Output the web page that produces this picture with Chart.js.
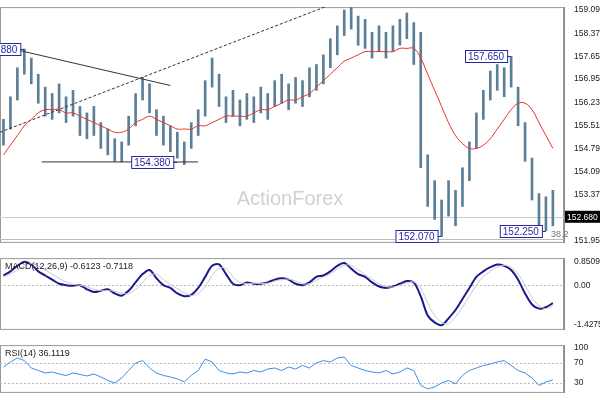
<!DOCTYPE html><html><head><meta charset="utf-8">
<script src="https://cdn.jsdelivr.net/npm/chart.js@4"></script>
<style>body{margin:0;background:#fff;width:600px;height:400px;overflow:hidden;position:relative}
canvas{position:absolute;left:0}</style></head><body>
<canvas id="c1" style="top:0;width:600px;height:250px"></canvas>
<canvas id="c2" style="top:251px;width:600px;height:86px"></canvas>
<canvas id="c3" style="top:338px;width:600px;height:62px"></canvas>
<script>
const lows=[154.9,155.4,156.3,157.1,156.8,156.2,155.8,155.7,155.9,155.6,155.8,155.2,155.1,155.2,154.8,154.6,154.4,154.38,154.9,155.5,156.3,155.9,155.2,154.9,154.7,154.5,154.3,154.8,155.2,155.8,156.7,156.1,155.6,155.8,155.5,155.7,155.6,155.9,155.7,156.1,156.2,156.0,156.2,156.1,156.4,156.6,156.8,157.3,157.7,158.3,158.5,158.0,157.9,157.6,157.8,157.6,157.8,158.0,158.2,157.4,154.2,153.0,152.6,152.07,152.7,152.4,153.0,153.8,154.8,155.7,156.3,156.6,156.4,156.7,155.5,154.4,153.2,152.4,152.25,152.4];
const highs=[155.7,156.4,157.3,157.88,157.6,157.1,156.7,156.5,156.8,156.4,156.6,156.1,155.9,156.1,155.6,155.4,155.1,155.0,155.8,156.5,157.0,156.8,156.0,155.8,155.5,155.3,155.0,155.6,156.0,156.9,157.6,157.1,156.4,156.6,156.3,156.5,156.4,156.7,156.5,156.9,157.1,156.8,157.0,156.9,157.3,157.4,157.7,158.2,158.6,159.09,159.2,158.9,158.8,158.4,158.6,158.4,158.6,158.8,159.0,158.7,158.4,154.6,153.8,153.2,153.8,153.5,154.2,155.0,155.9,156.6,157.2,157.4,157.3,157.65,156.7,155.6,154.5,153.4,153.3,153.5];
const ma=[154.6,154.9,155.2,155.5,155.7,155.9,156.0,156.0,156.0,155.9,155.9,155.8,155.7,155.6,155.5,155.4,155.3,155.3,155.4,155.6,155.7,155.8,155.7,155.6,155.5,155.4,155.4,155.4,155.5,155.5,155.6,155.7,155.8,155.8,155.8,155.8,155.9,156.0,156.0,156.1,156.2,156.3,156.3,156.4,156.5,156.7,156.9,157.1,157.3,157.5,157.6,157.7,157.8,157.8,157.8,157.8,157.8,157.9,157.9,157.9,157.6,157.1,156.6,156.1,155.6,155.2,154.95,154.8,154.8,154.9,155.1,155.4,155.7,156.0,156.2,156.2,156.0,155.6,155.2,154.8];
const macd=[0.35,0.5,0.7,0.85,0.75,0.5,0.35,0.2,0.05,0.0,-0.02,0.0,-0.15,-0.25,-0.2,-0.15,-0.3,-0.38,-0.2,0.1,0.4,0.55,0.25,0.0,-0.1,-0.3,-0.4,-0.35,-0.1,0.3,0.7,0.75,0.4,0.05,0.0,0.1,0.05,0.05,0.1,0.2,0.25,0.2,0.05,0.0,0.1,0.3,0.35,0.5,0.7,0.8,0.6,0.4,0.3,0.1,-0.05,-0.1,-0.05,0.05,0.15,0.1,-0.4,-1.1,-1.35,-1.45,-1.2,-0.9,-0.5,-0.1,0.3,0.5,0.65,0.75,0.7,0.55,0.2,-0.3,-0.7,-0.85,-0.8,-0.65];
const signal=[0.3,0.4,0.55,0.7,0.78,0.7,0.55,0.4,0.25,0.12,0.03,0.0,-0.06,-0.15,-0.2,-0.2,-0.22,-0.3,-0.3,-0.15,0.1,0.35,0.4,0.2,0.03,-0.12,-0.28,-0.37,-0.3,-0.05,0.35,0.62,0.6,0.3,0.1,0.05,0.07,0.06,0.07,0.14,0.2,0.22,0.15,0.05,0.05,0.18,0.3,0.4,0.58,0.72,0.72,0.55,0.38,0.22,0.05,-0.05,-0.07,0.0,0.08,0.12,-0.1,-0.65,-1.1,-1.35,-1.4,-1.15,-0.8,-0.4,0.0,0.3,0.5,0.65,0.72,0.65,0.4,0.0,-0.45,-0.75,-0.85,-0.75];
const rsi=[62,72,80,75,60,55,50,52,48,45,50,47,44,48,42,35,30,40,55,70,75,60,50,45,42,38,32,45,55,78,72,55,50,48,52,50,55,52,58,60,55,62,58,65,60,70,75,72,80,82,65,60,55,52,50,55,48,52,60,55,25,18,22,30,35,28,45,55,60,65,68,72,75,65,55,50,40,25,32,36];
const priceTicks=[159.09,158.37,157.65,156.95,156.23,155.51,154.79,154.09,153.37,151.95];
const lastPrice=152.68;
const priceLabels=[{i:3,v:157.88,t:'157.880'},{i:25,v:154.38,t:'154.380'},{i:63,v:152.07,t:'152.070'},{i:73,v:157.65,t:'157.650'},{i:78,v:152.25,t:'152.250'}];
const FONT='9px "Liberation Sans"';
const N=lows.length;
const xScale={type:'linear',min:-0.5,max:N+0.6,display:false,offset:false};
const yRight=(min,max,ticks,fmt)=>({position:'right',min,max,grid:{display:false},border:{color:'#888'},
 afterBuildTicks:s=>{s.ticks=ticks.map(v=>({value:v}))},afterFit:s=>{s.width=36},
 ticks:{autoSkip:false,font:{family:'Liberation Sans',size:8.5},color:'#222',padding:2,callback:fmt}});
const frame={id:'frame',beforeDraw(c){const a=c.chartArea,x=c.ctx;x.save();x.strokeStyle='#999';x.lineWidth=1;x.strokeRect(a.left+0.5,a.top+0.5,a.right-a.left-1,a.bottom-a.top-1);x.restore();}};
function hline(c,v,col,dash){const a=c.chartArea,x=c.ctx,y=Math.round(c.scales.y.getPixelForValue(v))+0.5;x.save();x.strokeStyle=col;x.setLineDash(dash||[]);x.beginPath();x.moveTo(a.left,y);x.lineTo(a.right,y);x.stroke();x.restore();}
const mainPlug={id:'mainp',beforeDatasetsDraw(c){hline(c,lastPrice,'#ccc');hline(c,151.98,'#bbb');
 const x=c.ctx;x.save();x.font='20px "Liberation Sans"';x.fillStyle='rgba(150,150,150,0.45)';x.textAlign='center';x.fillText('ActionForex',290,205);x.restore();},
 afterDraw(c){const x=c.ctx,sx=c.scales.x,sy=c.scales.y;x.save();x.font='10px "Liberation Sans"';x.textBaseline='middle';
 priceLabels.forEach(p=>{const px=sx.getPixelForValue(p.i),py=Math.round(sy.getPixelForValue(p.v))+0.5;const w=x.measureText(p.t).width+6;
  const bx=px-w-4;
  x.strokeStyle='#2a2aa0';x.beginPath();x.moveTo(bx+w,py);x.lineTo(px,py);x.stroke();
  x.fillStyle='#fff';x.fillRect(bx,py-6,w,12);x.strokeRect(bx+0.5,py-6,w,12);x.fillStyle='#2a2aa0';x.fillText(p.t,bx+3,py+1);});
 x.font=FONT;x.fillStyle='#777';x.fillText('38.2',c.chartArea.right-13,sy.getPixelForValue(151.98)-5);
 const a=c.chartArea,py=sy.getPixelForValue(lastPrice);x.fillStyle='#000';x.fillRect(a.right+1,py-6,35,12);x.fillStyle='#fff';x.font='8.5px "Liberation Sans"';x.fillText(lastPrice.toFixed(3),a.right+3,py+1);x.restore();}};
const base={responsive:false,animation:false,plugins:{legend:{display:false},tooltip:{enabled:false}}};
function mk(id,h){const c=document.getElementById(id);c.width=600;c.height=h;return c;}
new Chart(mk('c1',250),{type:'bar',data:{datasets:[
 {type:'line',data:ma.map((v,i)=>({x:i,y:v})),borderColor:'#e8302a',borderWidth:1,pointRadius:0,tension:0.4},
 {type:'line',data:[{x:-0.5,y:155.3},{x:47,y:159.25}],borderColor:'#333',borderWidth:1,borderDash:[3,2],pointRadius:0},
 {type:'line',data:[{x:2,y:157.85},{x:24,y:156.75}],borderColor:'#333',borderWidth:1,pointRadius:0},
 {type:'line',data:[{x:5.5,y:154.38},{x:28,y:154.38}],borderColor:'#333',borderWidth:1,pointRadius:0},
 {data:lows.map((l,i)=>({x:i,y:[l,highs[i]]})),backgroundColor:'#5b7f97',barThickness:2}]},
 options:{...base,scales:{x:xScale,y:yRight(151.87,159.18,priceTicks,v=>v.toFixed(3))}},plugins:[frame,mainPlug]});
const txt=(t)=>({id:'t',afterDraw(c){const x=c.ctx;x.save();x.font=FONT;x.fillStyle='#222';x.textBaseline='top';x.fillText(t,5,c.chartArea.top+4);x.restore();}});
new Chart(mk('c2',86),{type:'line',data:{datasets:[
 {data:signal.map((v,i)=>({x:i,y:v})),borderColor:'#c8c8c8',borderWidth:1,pointRadius:0,tension:0.3},
 {data:macd.map((v,i)=>({x:i,y:v})),borderColor:'#1a1a8c',borderWidth:2,pointRadius:0,tension:0.3}]},
 options:{...base,scales:{x:xScale,y:yRight(-1.62,0.98,[0.8509,0,-1.4275],v=>v===0?'0.00':v.toFixed(4))}},
 plugins:[frame,{id:'z',beforeDatasetsDraw(c){hline(c,0,'#bbb',[2,2]);}},txt('MACD(12,26,9) -0.6123 -0.7118')]});
new Chart(mk('c3',62),{type:'line',data:{datasets:[
 {data:rsi.map((v,i)=>({x:i,y:v})),borderColor:'#3d8ee8',borderWidth:1,pointRadius:0}]},
 options:{...base,scales:{x:xScale,y:yRight(10,106,[100,70,30],v=>String(v))}},
 plugins:[frame,{id:'z',beforeDatasetsDraw(c){hline(c,70,'#bbb',[2,2]);hline(c,30,'#bbb',[2,2]);}},txt('RSI(14) 36.1119')]});
</script></body></html>
